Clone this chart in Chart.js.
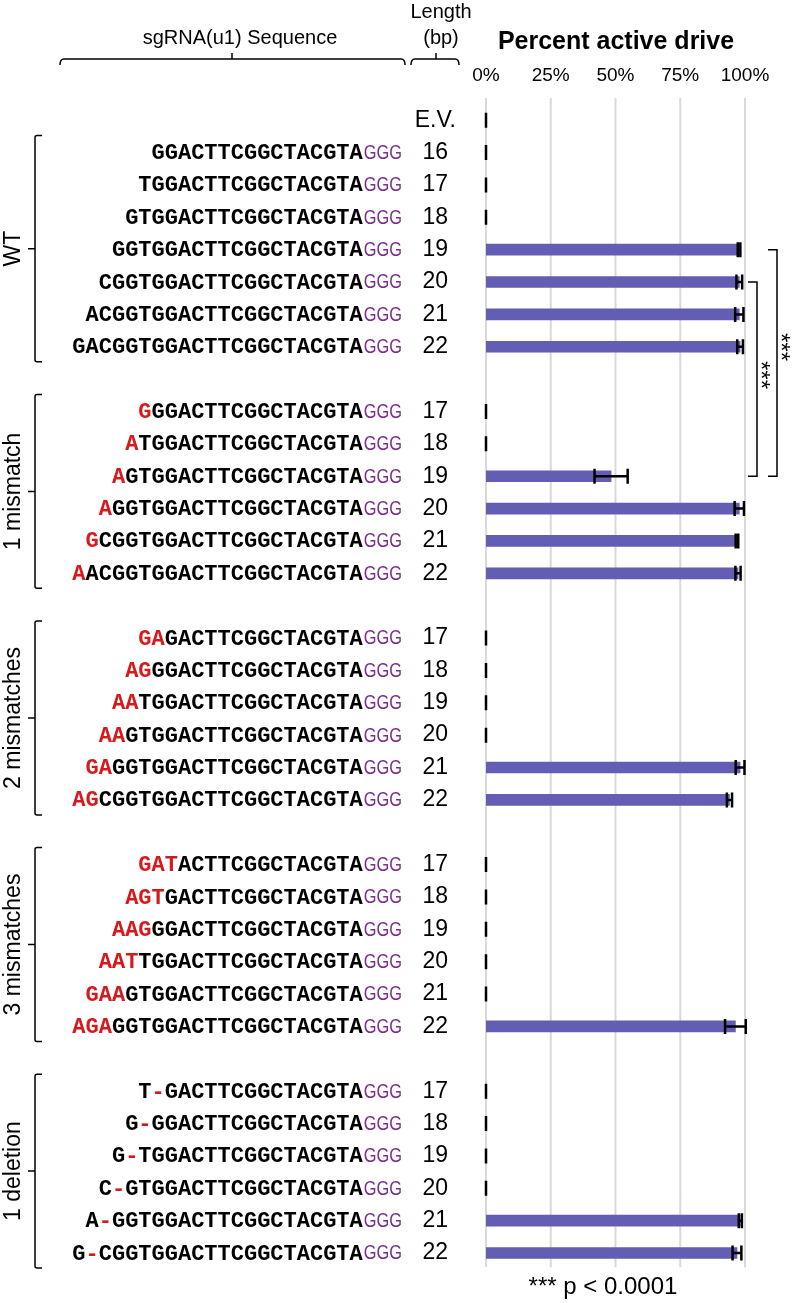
<!DOCTYPE html>
<html>
<head>
<meta charset="utf-8">
<script src="https://cdn.jsdelivr.net/npm/chart.js@4"></script>
<style>
  html, body { margin: 0; padding: 0; background: #fff; overflow: hidden; }
</style>
</head>
<body>
<canvas id="chart" width="793" height="1313"></canvas>
<script>
// Row labels (length in bp), blank rows separate the groups
const lengths = ['E.V.', '16', '17', '18', '19', '20', '21', '22', '',
  '17', '18', '19', '20', '21', '22', '',
  '17', '18', '19', '20', '21', '22', '',
  '17', '18', '19', '20', '21', '22', '',
  '17', '18', '19', '20', '21', '22'];

// sgRNA sequences, [..] marks the red mismatch / deletion part, GGG is added when drawn
const sequences = ['', 'GGACTTCGGCTACGTA', 'TGGACTTCGGCTACGTA', 'GTGGACTTCGGCTACGTA', 'GGTGGACTTCGGCTACGTA',
  'CGGTGGACTTCGGCTACGTA', 'ACGGTGGACTTCGGCTACGTA', 'GACGGTGGACTTCGGCTACGTA', '',
  '[G]GGACTTCGGCTACGTA', '[A]TGGACTTCGGCTACGTA', '[A]GTGGACTTCGGCTACGTA', '[A]GGTGGACTTCGGCTACGTA',
  '[G]CGGTGGACTTCGGCTACGTA', '[A]ACGGTGGACTTCGGCTACGTA', '',
  '[GA]GACTTCGGCTACGTA', '[AG]GGACTTCGGCTACGTA', '[AA]TGGACTTCGGCTACGTA', '[AA]GTGGACTTCGGCTACGTA',
  '[GA]GGTGGACTTCGGCTACGTA', '[AG]CGGTGGACTTCGGCTACGTA', '',
  '[GAT]ACTTCGGCTACGTA', '[AGT]GACTTCGGCTACGTA', '[AAG]GGACTTCGGCTACGTA', '[AAT]TGGACTTCGGCTACGTA',
  '[GAA]GTGGACTTCGGCTACGTA', '[AGA]GGTGGACTTCGGCTACGTA', '',
  'T[-]GACTTCGGCTACGTA', 'G[-]GGACTTCGGCTACGTA', 'G[-]TGGACTTCGGCTACGTA', 'C[-]GTGGACTTCGGCTACGTA',
  'A[-]GGTGGACTTCGGCTACGTA', 'G[-]CGGTGGACTTCGGCTACGTA'];

// Percent active drive (mean) and error
const activeDrive = [0, 0, 0, 0, 97.7, 97.8, 97.8, 98.1, null,
  0, 0, 48.3, 97.8, 96.9, 97.3, null,
  0, 0, 0, 0, 98.1, 94.0, null,
  0, 0, 0, 0, 0, 96.3, null,
  0, 0, 0, 0, 98.2, 96.9];
const driveError = [0, 0, 0, 0, 0.5, 1.1, 1.6, 1.1, null,
  0, 0, 6.4, 1.8, 0.5, 1.0, null,
  0, 0, 0, 0, 1.7, 1.0, null,
  0, 0, 0, 0, 0, 4.0, null,
  0, 0, 0, 0, 0.6, 1.7];

const xTicks = [0, 25, 50, 75, 100];

// groups: label, first row index, last row index
const groupNames = ['WT', '1 mismatch', '2 mismatches', '3 mismatches', '1 deletion'];
const groupFirst = [1, 9, 16, 23, 30];
const groupLast = [7, 14, 21, 28, 35];

// significance brackets: row from, row to
const sigFrom = [4, 5];
const sigTo = [11, 11];

const SANS = '"Liberation Sans", Arial, sans-serif';
const MONO = '"Liberation Mono", "Courier New", monospace';

const decorPlugin = {
  id: 'decor',
  beforeDatasetsDraw(chart) {
    // vertical grid lines at the x ticks, kept inside the plot rows
    const ctx = chart.ctx;
    const x = chart.scales.x, y = chart.scales.y;
    ctx.save();
    ctx.strokeStyle = '#d9d9d9';
    ctx.lineWidth = 2;
    x.ticks.forEach(t => {
      const px = x.getPixelForValue(t.value);
      ctx.beginPath();
      ctx.moveTo(px, y.top - 6);
      ctx.lineTo(px, y.bottom - 2);
      ctx.stroke();
    });
    ctx.restore();
  },
  afterDatasetsDraw(chart) {
    const ctx = chart.ctx;
    const x = chart.scales.x, y = chart.scales.y;
    ctx.save();
    ctx.strokeStyle = '#000';
    ctx.lineWidth = 2.5;
    activeDrive.forEach((v, i) => {
      if (v === null) return;
      const e = driveError[i];
      const yc = y.getPixelForValue(i);
      const x1 = x.getPixelForValue(v - e), x2 = x.getPixelForValue(v + e);
      ctx.beginPath();
      ctx.moveTo(x1, yc); ctx.lineTo(x2, yc);
      ctx.moveTo(x1, yc - 7.5); ctx.lineTo(x1, yc + 7.5);
      ctx.moveTo(x2, yc - 7.5); ctx.lineTo(x2, yc + 7.5);
      ctx.stroke();
    });
    ctx.restore();
  },
  afterDraw(chart) {
    const ctx = chart.ctx;
    const y = chart.scales.y;
    ctx.save();
    ctx.fillStyle = '#000';
    ctx.strokeStyle = '#000';
    ctx.lineWidth = 1.5;

    // headers
    ctx.textAlign = 'center';
    ctx.textBaseline = 'middle';
    ctx.font = '20px ' + SANS;
    ctx.fillText('sgRNA(u1) Sequence', 240, 38);
    ctx.fillText('Length', 441, 12);
    ctx.fillText('(bp)', 441, 38);
    ctx.font = 'bold 25px ' + SANS;
    ctx.fillText('Percent active drive', 616, 42);

    // header braces
    const brace = (a, b, m, yy) => {
      ctx.beginPath();
      ctx.moveTo(a, yy + 6); ctx.quadraticCurveTo(a, yy, a + 4, yy);
      ctx.lineTo(b - 4, yy); ctx.quadraticCurveTo(b, yy, b, yy + 6);
      ctx.moveTo(m, yy); ctx.lineTo(m, yy - 6);
      ctx.stroke();
    };
    brace(60, 405, 232, 59);
    brace(411, 459, 436, 59);

    // sequences
    ctx.textBaseline = 'middle';
    ctx.textAlign = 'left';
    sequences.forEach((s, i) => {
      if (!s) return;
      const yc = y.getPixelForValue(i);
      ctx.font = '19.5px ' + SANS;
      const pam = 'GGG';
      const wPam = ctx.measureText(pam).width * 0.84;
      let xr = 402 - wPam;
      ctx.fillStyle = '#7b2d8e';
      ctx.save();
      ctx.translate(xr, yc + 1);
      ctx.scale(0.84, 1);
      ctx.fillText(pam, 0, 0);
      ctx.restore();
      ctx.font = 'bold 22px ' + MONO;
      const plain = s.replace(/[\[\]]/g, '');
      let xs = xr - 1 - ctx.measureText(plain).width;
      let red = false;
      for (const ch of s) {
        if (ch === '[') { red = true; continue; }
        if (ch === ']') { red = false; continue; }
        ctx.fillStyle = red ? '#d7191c' : '#000';
        ctx.fillText(ch, xs, yc + 1);
        xs += ctx.measureText(ch).width;
      }
    });

    // group brackets and labels
    ctx.fillStyle = '#000';
    ctx.font = '23px ' + SANS;
    groupNames.forEach((g, k) => {
      const top = y.getPixelForValue(groupFirst[k]) - 17;
      const bot = y.getPixelForValue(groupLast[k]) + 15;
      const mid = (top + bot) / 2;
      ctx.beginPath();
      ctx.moveTo(42, top); ctx.lineTo(37, top); ctx.quadraticCurveTo(35, top, 35, top + 2);
      ctx.lineTo(35, bot - 2); ctx.quadraticCurveTo(35, bot, 37, bot); ctx.lineTo(42, bot);
      ctx.moveTo(35, mid); ctx.lineTo(28, mid);
      ctx.stroke();
      ctx.save();
      ctx.translate(14, mid);
      ctx.rotate(-Math.PI / 2);
      ctx.textAlign = 'center';
      ctx.textBaseline = 'middle';
      ctx.fillText(g, 0, 0);
      ctx.restore();
    });

    // significance brackets
    const sigX = [777, 757];
    sigFrom.forEach((f, k) => {
      const y1 = y.getPixelForValue(f), y2 = y.getPixelForValue(sigTo[k]);
      const bx = sigX[k];
      ctx.beginPath();
      ctx.moveTo(bx - 9, y1); ctx.lineTo(bx, y1); ctx.lineTo(bx, y2); ctx.lineTo(bx - 9, y2);
      ctx.stroke();
      ctx.save();
      ctx.translate(bx + 3, k === 0 ? 347 : 375);
      ctx.rotate(Math.PI / 2);
      ctx.font = '24px ' + SANS;
      ctx.textAlign = 'center';
      ctx.textBaseline = 'middle';
      ctx.fillText('***', 0, 0);
      ctx.restore();
    });

    // footnote
    ctx.font = '24px ' + SANS;
    ctx.textAlign = 'center';
    ctx.textBaseline = 'middle';
    ctx.fillText('*** p < 0.0001', 603, 1287);
    ctx.restore();
  }
};

new Chart(document.getElementById('chart'), {
  type: 'bar',
  data: {
    labels: lengths,
    datasets: [{
      label: 'Percent active drive',
      data: activeDrive,
      backgroundColor: '#635eb3',
      barThickness: 11
    }]
  },
  options: {
    indexAxis: 'y',
    responsive: false,
    animation: false,
    layout: { padding: { left: 406, right: 48, top: 44, bottom: 24 } },
    plugins: {
      legend: { display: false },
      tooltip: { enabled: false }
    },
    scales: {
      x: {
        position: 'top',
        min: 0,
        max: 100,
        afterFit: s => { s.height = 60; },
        afterBuildTicks: s => { s.ticks = xTicks.map(v => ({ value: v })); },
        ticks: {
          color: '#000',
          padding: 9,
          font: { family: SANS, size: 19 },
          callback: v => v + '%'
        },
        grid: { display: false },
        border: { display: false }
      },
      y: {
        afterFit: s => { s.width = 80; },
        ticks: {
          color: '#000',
          autoSkip: false,
          crossAlign: 'center',
          padding: 30,
          font: { family: SANS, size: 23 }
        },
        grid: { display: false, drawTicks: false },
        border: { display: false }
      }
    }
  },
  plugins: [decorPlugin]
});
</script>
</body>
</html>
